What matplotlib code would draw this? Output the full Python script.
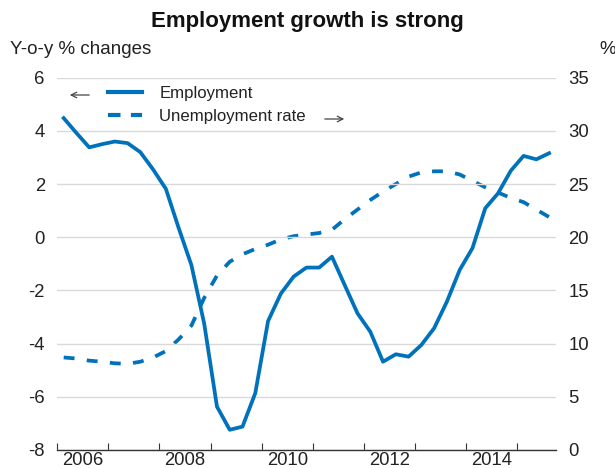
import numpy as np
import pandas as pd
import matplotlib
matplotlib.use('Agg')
import matplotlib.pyplot as plt
from matplotlib.ticker import FixedLocator, NullFormatter, FixedFormatter

plt.rcParams['font.family'] = ['Liberation Sans', 'DejaVu Sans']
plt.rcParams['axes.unicode_minus'] = False

quarters = pd.period_range('2006Q1', '2015Q3', freq='Q')
employment = [4.48, 3.92, 3.38, 3.5, 3.6, 3.54, 3.2, 2.55, 1.82, 0.35,
              -1.05, -3.25, -6.37, -7.24, -7.12, -5.86, -3.15, -2.12, -1.48, -1.14,
              -1.14, -0.73, -1.8, -2.86, -3.55, -4.68, -4.4, -4.49, -4.05, -3.42,
              -2.42, -1.23, -0.41, 1.09, 1.65, 2.5, 3.06, 2.93, 3.16]
unemployment = [8.7, 8.6, 8.4, 8.3, 8.15, 8.1, 8.3, 8.7, 9.3, 10.4,
                11.7, 14.3, 16.4, 17.7, 18.4, 18.9, 19.3, 19.8, 20.1, 20.25,
                20.4, 20.7, 21.7, 22.6, 23.5, 24.3, 25.0, 25.7, 26.1, 26.2,
                26.2, 25.9, 25.3, 24.7, 24.2, 23.7, 23.3, 22.6, 21.9]
year_labels = ['2006', '', '2008', '', '2010', '', '2012', '', '2014', '']
left_ticks = [-8, -6, -4, -2, 0, 2, 4, 6]
right_ticks = [0, 5, 10, 15, 20, 25, 30, 35]

x = np.array([q.year + (q.quarter - 0.5) / 4 for q in quarters])
blue = '#0072bc'
txt = '#222222'

fig = plt.figure(figsize=(6.15, 4.68), dpi=100)
ax = fig.add_axes([57.3 / 615, 1 - 450 / 468, (556 - 57.3) / 615, (450 - 77.7) / 468])
ax2 = ax.twinx()

ax.set_xlim(2006, 2015.76)
ax.set_ylim(-8, 6)
ax2.set_ylim(0, 35)
ax.set_yticks(left_ticks)
ax2.set_yticks(right_ticks)
ax.grid(axis='y', color='#d9d9d9', linewidth=1.0)
ax.set_axisbelow(True)

ax2.plot(x, unemployment, color=blue, linewidth=2.7, dashes=(2.9, 3.3))
ax.plot(x, employment, color=blue, linewidth=2.7)
ax.set_zorder(ax2.get_zorder() + 1)
ax.patch.set_visible(False)

# year boundaries get ticks, labels sit mid-year
years = np.arange(2006, 2016)
ax.xaxis.set_major_locator(FixedLocator(years))
ax.xaxis.set_major_formatter(NullFormatter())
ax.xaxis.set_minor_locator(FixedLocator(years + 0.5))
ax.xaxis.set_minor_formatter(FixedFormatter(year_labels))
ax.tick_params(axis='x', which='major', direction='in', length=5, width=0.8, color='#333333')
ax.tick_params(axis='x', which='minor', length=0, pad=1.2, labelsize=13.3, labelcolor=txt)
ax2.tick_params(axis='x', which='both', length=0, labelbottom=False)
ax.tick_params(axis='y', length=0, pad=9, labelsize=13.3, labelcolor=txt)
ax2.tick_params(axis='y', length=0, pad=9, labelsize=13.3, labelcolor=txt)

for a in (ax, ax2):
    for s in ['top', 'left', 'right', 'bottom']:
        a.spines[s].set_visible(False)
ax.spines['bottom'].set_visible(True)
ax.spines['bottom'].set_color('#333333')
ax.spines['bottom'].set_linewidth(1.0)

fig.text(0.5, 1 - 21 / 468, 'Employment growth is strong', ha='center', va='center',
         fontsize=16, fontweight='bold', color='#111111')
fig.text(10 / 615, 1 - 50 / 468, 'Y-o-y % changes', ha='left', va='center',
         fontsize=13.5, color=txt)
fig.text(599 / 615, 1 - 50 / 468, '%', ha='left', va='center',
         fontsize=13.5, color=txt)

h1, = ax.plot([], [], color=blue, linewidth=3.0)
h2, = ax.plot([], [], color=blue, linewidth=3.0, dashes=(3.0, 2.5))
leg = ax.legend([h1, h2], ['Employment', 'Unemployment rate'], loc='upper left',
                bbox_to_anchor=(108 / 615, 1 - 86 / 468), bbox_transform=fig.transFigure,
                frameon=False, fontsize=12.1, handlelength=2.05, handletextpad=1.0,
                borderpad=0, borderaxespad=0, labelspacing=0.45)
for t in leg.get_texts():
    t.set_color(txt)

arrow = dict(arrowstyle='->', color='#444444', linewidth=0.9)
ax.annotate('', xy=(67 / 615, 1 - 95 / 468), xytext=(92 / 615, 1 - 95 / 468),
            xycoords='figure fraction', textcoords='figure fraction', arrowprops=arrow)
ax.annotate('', xy=(347 / 615, 1 - 119 / 468), xytext=(322 / 615, 1 - 119 / 468),
            xycoords='figure fraction', textcoords='figure fraction', arrowprops=arrow)

fig.savefig('out.png', dpi=100)
